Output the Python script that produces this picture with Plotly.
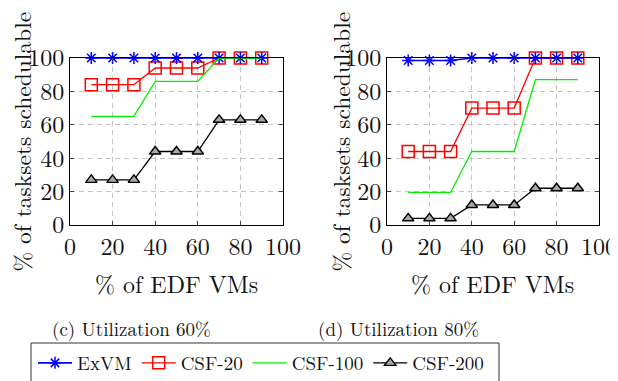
import plotly.graph_objects as go

# Page is rendered with an 8px body margin; lay out in window pixels and compensate.
WIN_W, WIN_H = 618, 381
OFF = 8
FW, FH = WIN_W - OFF, WIN_H - OFF

x_vals = [10, 20, 30, 40, 50, 60, 70, 80, 90]

# (c) Utilization 60%
c_exvm = [100, 100, 100, 100, 100, 100, 100, 100, 100]
c_csf20 = [84, 84, 84, 94, 94, 94, 100, 100, 100]
c_csf100 = [65, 65, 65, 86, 86, 86, 100, 100, 100]
c_csf200 = [27, 27, 27, 44, 44, 44, 63, 63, 63]

# (d) Utilization 80%
d_exvm = [98.5, 98.5, 98.5, 100, 100, 100, 100, 100, 100]
d_csf20 = [44, 44, 44, 70, 70, 70, 100, 100, 100]
d_csf100 = [19.5, 19.5, 19.5, 44, 44, 44, 87, 87, 87]
d_csf200 = [4, 4, 4, 12, 12, 12, 22, 22, 22]

tick_vals = [0, 20, 40, 60, 80, 100]
tick_text = ["0", "20", "40", "60", "80", "100"]

series_names = ["ExVM", "CSF-20", "CSF-100", "CSF-200"]
captions = ["(c) Utilization 60%", "(d) Utilization 80%"]
x_title = "% of EDF VMs"
y_title = "% of tasksets schedulable"

FONT = "Latin Modern Roman"

def px_x(p):
    return (p - OFF) / FW

def px_y(p):
    return 1 - (p - OFF) / FH

styles = {
    "ExVM": dict(color="#0000ff", symbol="asterisk-open", size=10, lw=1.6),
    "CSF-20": dict(color="#ff0000", symbol="square-open", size=12, lw=1.3),
    "CSF-100": dict(color="#00f000", symbol=None, size=0, lw=1.3),
    "CSF-200": dict(color="#000000", symbol="triangle-up", size=10, lw=1.3),
}
rank = {"ExVM": 1, "CSF-20": 2, "CSF-100": 3, "CSF-200": 4}

fig = go.Figure()

panels = [
    ("x", "y", {"ExVM": c_exvm, "CSF-20": c_csf20, "CSF-100": c_csf100, "CSF-200": c_csf200}),
    ("x2", "y2", {"ExVM": d_exvm, "CSF-20": d_csf20, "CSF-100": d_csf100, "CSF-200": d_csf200}),
]

draw_order = ["CSF-20", "ExVM", "CSF-100", "CSF-200"]
for i, (xa, ya, data) in enumerate(panels):
    for name in draw_order:
        st = styles[name]
        kw = dict(
            x=x_vals, y=data[name], name=name, xaxis=xa, yaxis=ya,
            legendgroup=name, showlegend=(i == 0), legendrank=rank[name],
            line=dict(color=st["color"], width=st["lw"]), cliponaxis=False,
        )
        if st["symbol"]:
            kw["mode"] = "lines+markers"
            if name == "CSF-200":
                kw["marker"] = dict(symbol=st["symbol"], size=st["size"], color="#a8a8a8",
                                    line=dict(color="#000000", width=1.4))
            else:
                kw["marker"] = dict(symbol=st["symbol"], size=st["size"], color=st["color"],
                                    line=dict(color=st["color"], width=1.5))
        else:
            kw["mode"] = "lines"
        fig.add_trace(go.Scatter(**kw))

axis_common = dict(
    range=[0, 100], tickmode="array", tickvals=tick_vals, ticktext=tick_text,
    showline=True, linecolor="#000000", linewidth=1, mirror="ticks",
    ticks="inside", ticklen=4, tickcolor="#444444", tickwidth=1,
    showgrid=True, gridcolor="#c4c4c4", gridwidth=1, griddash="5px,4px",
    zeroline=False, automargin=False,
    tickfont=dict(family=FONT, size=24, color="#111111"),
)

fig.update_layout(
    template="none",
    width=FW, height=FH, margin=dict(l=0, r=0, t=0, b=0, autoexpand=False),
    paper_bgcolor="white", plot_bgcolor="white",
    showlegend=True,
    xaxis=dict(domain=[px_x(70), px_x(283)], anchor="y", **axis_common),
    yaxis=dict(domain=[px_y(225), px_y(58)], anchor="x", **axis_common),
    xaxis2=dict(domain=[px_x(387), px_x(599)], anchor="y2", **axis_common),
    yaxis2=dict(domain=[px_y(225), px_y(58)], anchor="x2", **axis_common),
    legend=dict(
        orientation="h", x=px_x(33), xanchor="left", y=px_y(363), yanchor="middle",
        font=dict(family=FONT, size=19, color="#111111"),
        bgcolor="rgba(0,0,0,0)", borderwidth=0, traceorder="normal",
        itemwidth=34,
    ),
    shapes=[
        dict(type="rect", xref="paper", yref="paper",
             x0=px_x(31), x1=px_x(499), y0=px_y(395), y1=px_y(343),
             line=dict(color="#333333", width=1), fillcolor="rgba(0,0,0,0)"),
    ],
)

annotations = []
for cx, cy in [(176, 283), (492, 283)]:
    annotations.append(dict(text=x_title, x=px_x(cx), y=px_y(cy), xref="paper", yref="paper",
                            showarrow=False, xanchor="center", yanchor="middle",
                            font=dict(family=FONT, size=24, color="#111111")))
for cx, cy in [(20.5, 142), (339.5, 142)]:
    annotations.append(dict(text=y_title, x=px_x(cx), y=px_y(cy), xref="paper", yref="paper",
                            showarrow=False, xanchor="center", yanchor="middle", textangle=-90,
                            font=dict(family=FONT, size=23.5, color="#111111")))
for cx, text in zip([131, 398], captions):
    annotations.append(dict(text=text, x=px_x(cx), y=px_y(328), xref="paper", yref="paper",
                            showarrow=False, xanchor="center", yanchor="middle",
                            font=dict(family=FONT, size=19, color="#111111")))
fig.update_layout(annotations=annotations)

fig.write_html("out.html")
